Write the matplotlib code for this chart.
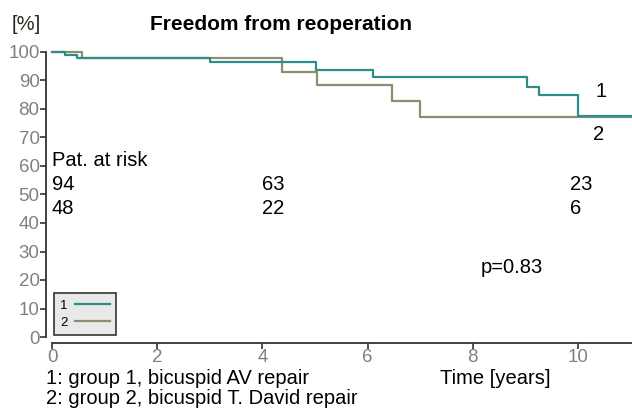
import matplotlib.pyplot as plt

plt.rcParams['font.family'] = ['Liberation Sans', 'DejaVu Sans']

# Kaplan-Meier steps, time in years / freedom in %
t1 = [0, 0.25, 0.48, 3.0, 5.02, 6.1, 9.03, 9.26, 10.0, 11.1]
s1 = [100, 99.0, 97.8, 96.5, 93.7, 91.2, 87.7, 84.9, 77.5, 77.5]
t2 = [0, 0.57, 4.37, 5.04, 6.46, 7.0, 11.1]
s2 = [100, 97.8, 93.0, 88.4, 82.8, 77.2, 77.2]

risk_times = [0, 4, 10]
risk_1 = [94, 63, 23]
risk_2 = [48, 22, 6]

teal = '#2e8c8a'
olive = '#8e8d72'
fs = 14.5

fig = plt.figure(figsize=(6.32, 4.09), dpi=100)
ax = fig.add_axes([52/632, 1-337/409, 1-52/632, 285/409])

ax.step(t2, s2, where='post', color=olive, lw=1.6, label='2', clip_on=False)
ax.step(t1, s1, where='post', color=teal, lw=1.6, label='1', clip_on=False)

ax.set_xlim(0, 11.03)
ax.set_ylim(0, 100)
ax.set_xticks([0, 2, 4, 6, 8, 10])
ax.set_yticks(range(0, 101, 10))

for side in ['top', 'right']:
    ax.spines[side].set_visible(False)
for side in ['left', 'bottom']:
    ax.spines[side].set_position(('outward', 4))
    ax.spines[side].set_linewidth(1.3)
    ax.spines[side].set_color('#333333')
ax.tick_params(direction='out', length=4, width=1.2, color='#333333',
               labelsize=13.5, labelcolor='#808080', pad=1)

# numbers at risk
ax.text(0, 62, 'Pat. at risk', fontsize=fs, va='center')
for t, a, b in zip(risk_times, risk_1, risk_2):
    dx = -0.15 if t == 10 else 0
    ax.text(t + dx, 53.5, str(a), fontsize=fs, va='center')
    ax.text(t + dx, 45, str(b), fontsize=fs, va='center')

ax.text(10.45, 86, '1', fontsize=fs, va='center', ha='center')
ax.text(10.4, 71, '2', fontsize=fs, va='center', ha='center')
ax.text(8.15, 24.5, 'p=0.83', fontsize=fs, va='center')

leg = ax.legend(handles=ax.get_lines()[::-1], loc='lower left',
                bbox_to_anchor=(0.0, 0.0), fontsize=9.5, frameon=True,
                fancybox=False, facecolor='#e9e9e9', edgecolor='#333333',
                framealpha=1, handlelength=2.6, markerfirst=False,
                borderpad=0.45, labelspacing=0.4, handletextpad=0.6,
                borderaxespad=0.15)
leg.get_frame().set_linewidth(1.2)

fig.text(12/632, 1-25/409, '[%]', fontsize=fs, va='center', color='#2a2a20')
fig.text(150/632, 1-25/409, 'Freedom from reoperation', fontsize=15,
         fontweight='bold', va='center')
fig.text(440/632, 1-379/409, 'Time [years]', fontsize=fs, va='center')
fig.text(46/632, 1-378/409, '1: group 1, bicuspid AV repair', fontsize=fs, va='center')
fig.text(46/632, 1-398/409, '2: group 2, bicuspid T. David repair', fontsize=fs, va='center')

fig.savefig('out.png', dpi=100)
